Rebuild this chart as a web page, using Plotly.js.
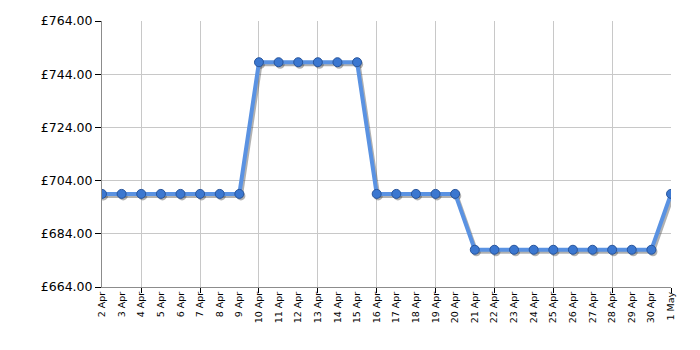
<!DOCTYPE html>
<html>
<head>
<meta charset="utf-8">
<script src="https://cdn.plot.ly/plotly-3.0.1.min.js"></script>
<style>html,body{margin:0;padding:0;background:#fff;}#chart{width:700px;height:350px;}</style>
</head>
<body>
<div id="chart"></div>
<script>
const dateLabels = ["2 Apr","3 Apr","4 Apr","5 Apr","6 Apr","7 Apr","8 Apr","9 Apr","10 Apr","11 Apr","12 Apr","13 Apr","14 Apr","15 Apr","16 Apr","17 Apr","18 Apr","19 Apr","20 Apr","21 Apr","22 Apr","23 Apr","24 Apr","25 Apr","26 Apr","27 Apr","28 Apr","29 Apr","30 Apr","1 May"];
const prices = [699,699,699,699,699,699,699,699,748.5,748.5,748.5,748.5,748.5,748.5,699,699,699,699,699,678,678,678,678,678,678,678,678,678,678,699];
const yTicks = [664,684,704,724,744,764];
const yTickText = yTicks.map(v => "£" + v.toFixed(2));

const idx = dateLabels.map((_, i) => i);
const gridIdx = idx.filter(i => i % 3 === 2);

const font = {family: "DejaVu Sans, Verdana, sans-serif", color: "#000"};

const baseTrace = {
  x: idx, y: prices, xaxis: "x", yaxis: "y", type: "scatter", mode: "lines",
  line: {color: "rgba(0,0,0,0)", width: 0}, hoverinfo: "skip", showlegend: false
};
const gridTrace = {
  x: idx, y: prices, xaxis: "x2", yaxis: "y", type: "scatter", mode: "lines",
  line: {color: "rgba(0,0,0,0)", width: 0}, hoverinfo: "skip", showlegend: false
};
const shadow = {
  x: idx, y: prices, xaxis: "x3", yaxis: "y2", type: "scatter", mode: "lines+markers",
  line: {color: "rgba(60,60,60,0.4)", width: 4},
  marker: {size: 9, color: "rgba(60,60,60,0.4)"},
  hoverinfo: "skip", showlegend: false
};
const main = {
  x: idx, y: prices, xaxis: "x4", yaxis: "y3", type: "scatter", mode: "lines+markers",
  line: {color: "#5a92e2", width: 4},
  marker: {size: 9, color: "#3b77d0", line: {color: "#28559c", width: 1}},
  showlegend: false
};

const xr = [0, 29];
const yr = [664, 764];
const layout = {
  width: 700, height: 350,
  margin: {l: 102, r: 29, t: 21, b: 63},
  paper_bgcolor: "#fff", plot_bgcolor: "#fff",
  showlegend: false,
  xaxis: {
    range: xr, tickvals: idx, ticktext: dateLabels, tickangle: -90,
    showgrid: false, zeroline: false, ticks: "",
    tickfont: Object.assign({size: 9.5}, font),
    showline: true, linecolor: "#8c8c8c", linewidth: 1
  },
  xaxis2: {
    overlaying: "x", range: xr, tickvals: gridIdx, showticklabels: false,
    showgrid: true, gridcolor: "#c8c8c8", gridwidth: 1, zeroline: false,
    ticks: "outside", ticklen: 5, tickcolor: "#000", side: "bottom"
  },
  xaxis3: {
    overlaying: "x", range: [xr[0] - 0.08, xr[1] - 0.08], visible: false
  },
  xaxis4: {
    overlaying: "x", range: xr, visible: false
  },
  yaxis: {
    range: yr, tickvals: yTicks, ticktext: yTickText,
    showgrid: true, gridcolor: "#c8c8c8", zeroline: false,
    ticks: "outside", ticklen: 6, tickcolor: "#000",
    tickfont: Object.assign({size: 12.5}, font),
    showline: true, linecolor: "#8c8c8c", linewidth: 1
  },
  yaxis2: {
    overlaying: "y", range: [yr[0] + 0.75, yr[1] + 0.75], visible: false
  },
  yaxis3: {
    overlaying: "y", range: yr, visible: false
  }
};

Plotly.newPlot("chart", [baseTrace, gridTrace, shadow, main], layout, {displayModeBar: false, staticPlot: true});
</script>
</body>
</html>
